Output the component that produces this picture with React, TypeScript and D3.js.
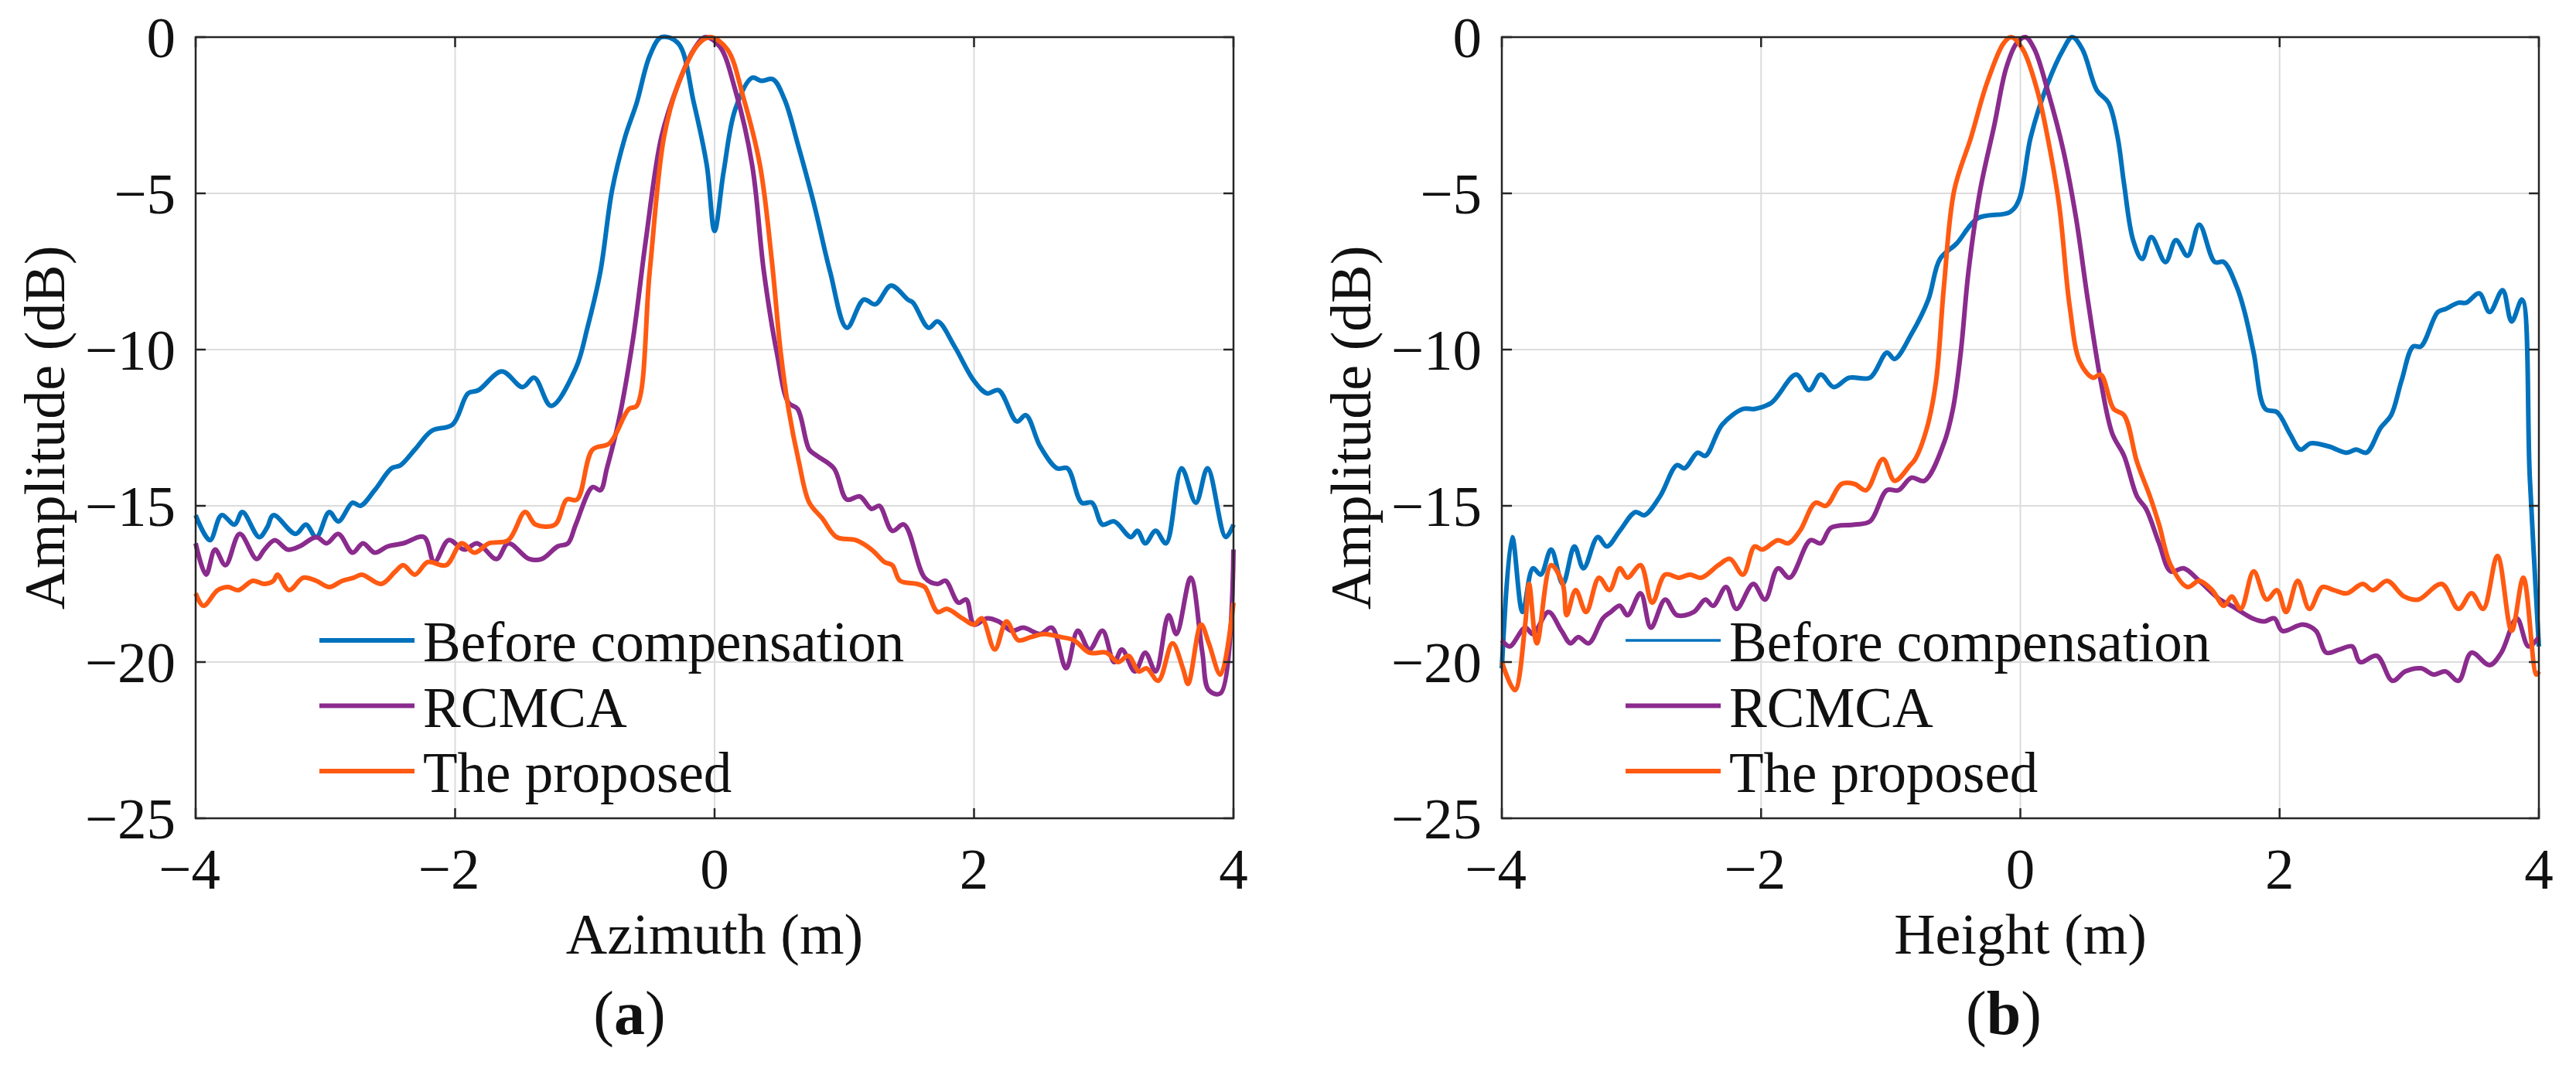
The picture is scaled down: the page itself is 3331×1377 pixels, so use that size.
import * as d3 from 'd3';

// ---- data: [x (m), amplitude (dB)] ----
const seriesNames = ['Before compensation', 'RCMCA', 'The proposed'];
const xTicks = [-4, -2, 0, 2, 4];
const yTicks = [0, -5, -10, -15, -20, -25];

const azBefore = [[-4,-15.3],[-3.89,-16.1],[-3.8,-15.3],[-3.7,-15.6],[-3.64,-15.2],[-3.51,-16.0],[-3.45,-15.7],[-3.4,-15.3],[-3.23,-15.9],[-3.15,-15.6],[-3.07,-16.0],[-2.97,-15.2],[-2.9,-15.5],[-2.79,-14.9],[-2.73,-15.0],[-2.62,-14.5],[-2.49,-13.8],[-2.42,-13.7],[-2.31,-13.2],[-2.18,-12.6],[-2.02,-12.4],[-1.9,-11.4],[-1.82,-11.3],[-1.64,-10.7],[-1.48,-11.2],[-1.39,-10.9],[-1.26,-11.8],[-1.07,-10.6],[-0.98,-9.3],[-0.88,-7.5],[-0.79,-4.9],[-0.69,-3.2],[-0.6,-2.1],[-0.5,-0.6],[-0.41,0],[-0.28,-0.2],[-0.16,-2.1],[-0.06,-4.1],[0,-6.2],[0.07,-4.3],[0.16,-2.3],[0.29,-1.3],[0.36,-1.4],[0.45,-1.35],[0.54,-2.0],[0.64,-3.4],[0.77,-5.4],[0.89,-7.5],[1.02,-9.3],[1.15,-8.4],[1.24,-8.55],[1.36,-7.95],[1.49,-8.4],[1.53,-8.5],[1.65,-9.3],[1.72,-9.1],[1.85,-9.9],[2.0,-11.0],[2.1,-11.4],[2.19,-11.3],[2.33,-12.3],[2.4,-12.1],[2.51,-13.1],[2.64,-13.8],[2.72,-13.8],[2.83,-14.9],[2.91,-14.9],[2.99,-15.6],[3.08,-15.5],[3.21,-16.0],[3.26,-15.8],[3.32,-16.2],[3.4,-15.8],[3.48,-16.2],[3.6,-13.8],[3.71,-14.9],[3.8,-13.8],[3.94,-16.0],[4,-15.6]];
const azRcmca = [[-4,-16.2],[-3.92,-17.2],[-3.85,-16.4],[-3.77,-16.9],[-3.66,-15.9],[-3.53,-16.7],[-3.47,-16.4],[-3.39,-16.1],[-3.29,-16.4],[-3.2,-16.3],[-3.07,-16.0],[-2.99,-16.2],[-2.9,-15.9],[-2.79,-16.5],[-2.71,-16.2],[-2.62,-16.5],[-2.52,-16.3],[-2.4,-16.2],[-2.24,-16.0],[-2.16,-16.8],[-2.05,-16.1],[-1.93,-16.4],[-1.83,-16.2],[-1.68,-16.7],[-1.59,-16.2],[-1.43,-16.7],[-1.33,-16.7],[-1.21,-16.3],[-1.13,-16.2],[-1.07,-15.6],[-0.94,-14.4],[-0.88,-14.5],[-0.83,-13.8],[-0.74,-12.3],[-0.63,-9.7],[-0.53,-6.5],[-0.41,-3.2],[-0.28,-1.5],[-0.16,-0.4],[-0.07,0],[0.04,-0.3],[0.16,-1.7],[0.29,-4.1],[0.38,-7.5],[0.48,-10.1],[0.57,-11.7],[0.64,-11.9],[0.73,-13.2],[0.79,-13.4],[0.92,-13.8],[1.02,-14.8],[1.12,-14.7],[1.21,-15.1],[1.27,-15.0],[1.37,-15.8],[1.46,-15.6],[1.62,-17.3],[1.72,-17.5],[1.78,-17.4],[1.88,-18.1],[1.94,-18.0],[2.0,-18.8],[2.1,-18.6],[2.19,-18.7],[2.29,-19.0],[2.38,-18.9],[2.51,-19.1],[2.6,-18.9],[2.71,-20.2],[2.8,-19.0],[2.89,-19.6],[2.99,-19.0],[3.08,-20.0],[3.14,-19.6],[3.24,-20.3],[3.32,-19.7],[3.4,-20.3],[3.5,-18.5],[3.56,-19.1],[3.67,-17.3],[3.76,-19.7],[3.81,-20.9],[3.9,-21.0],[4,-16.4]];
const azProposed = [[-4,-17.8],[-3.94,-18.2],[-3.83,-17.7],[-3.75,-17.6],[-3.67,-17.7],[-3.56,-17.4],[-3.47,-17.5],[-3.4,-17.4],[-3.37,-17.2],[-3.28,-17.7],[-3.17,-17.3],[-3.07,-17.4],[-2.97,-17.6],[-2.87,-17.4],[-2.78,-17.3],[-2.72,-17.2],[-2.57,-17.5],[-2.46,-17.1],[-2.4,-16.9],[-2.31,-17.2],[-2.21,-16.8],[-2.07,-16.9],[-1.95,-16.2],[-1.85,-16.5],[-1.74,-16.2],[-1.59,-16.1],[-1.46,-15.2],[-1.38,-15.6],[-1.23,-15.6],[-1.14,-14.8],[-1.06,-14.8],[-0.94,-13.2],[-0.81,-13.0],[-0.66,-11.9],[-0.6,-11.8],[-0.5,-7.5],[-0.39,-3.2],[-0.28,-1.5],[-0.12,-0.2],[-0.03,0],[0.1,-0.4],[0.22,-1.9],[0.35,-4.1],[0.44,-7.1],[0.51,-10.1],[0.57,-11.9],[0.65,-13.6],[0.73,-14.9],[0.83,-15.4],[0.94,-16.0],[1.09,-16.1],[1.21,-16.4],[1.31,-16.8],[1.37,-16.9],[1.43,-17.4],[1.56,-17.5],[1.62,-17.6],[1.72,-18.4],[1.79,-18.3],[1.91,-18.6],[2.0,-18.8],[2.06,-18.6],[2.16,-19.6],[2.25,-18.7],[2.34,-19.3],[2.44,-19.2],[2.54,-19.1],[2.67,-19.2],[2.77,-19.3],[2.89,-19.7],[3.02,-19.7],[3.11,-20.0],[3.19,-19.8],[3.27,-20.3],[3.33,-20.2],[3.42,-20.6],[3.53,-19.4],[3.61,-20.2],[3.65,-20.7],[3.75,-18.8],[3.81,-19.4],[3.9,-20.4],[4,-18.1]];

const htBefore = [[-4,-20.2],[-3.92,-16.0],[-3.84,-18.4],[-3.76,-17.0],[-3.7,-17.2],[-3.62,-16.4],[-3.53,-17.5],[-3.44,-16.3],[-3.37,-17.0],[-3.26,-16.0],[-3.19,-16.3],[-3.09,-15.8],[-2.97,-15.2],[-2.9,-15.3],[-2.78,-14.7],[-2.65,-13.7],[-2.59,-13.8],[-2.49,-13.3],[-2.43,-13.4],[-2.3,-12.4],[-2.14,-11.9],[-2.05,-11.9],[-1.92,-11.7],[-1.73,-10.8],[-1.63,-11.3],[-1.54,-10.8],[-1.44,-11.2],[-1.32,-10.9],[-1.16,-10.9],[-1.03,-10.1],[-0.97,-10.3],[-0.84,-9.5],[-0.71,-8.4],[-0.62,-7.1],[-0.49,-6.6],[-0.33,-5.8],[-0.08,-5.6],[-0.01,-5.2],[0.08,-3.2],[0.21,-1.5],[0.33,-0.4],[0.4,0],[0.48,-0.4],[0.59,-1.7],[0.68,-2.1],[0.75,-3.2],[0.8,-4.7],[0.87,-6.5],[0.94,-7.1],[1.01,-6.4],[1.12,-7.2],[1.2,-6.5],[1.29,-7.0],[1.38,-6.0],[1.5,-7.2],[1.57,-7.2],[1.67,-8.0],[1.73,-8.8],[1.8,-10.1],[1.89,-11.9],[1.98,-12.0],[2.08,-12.7],[2.16,-13.2],[2.24,-13.0],[2.38,-13.1],[2.52,-13.3],[2.59,-13.2],[2.67,-13.3],[2.78,-12.5],[2.86,-12.1],[2.94,-11.0],[3.03,-9.9],[3.09,-9.9],[3.22,-8.8],[3.28,-8.7],[3.38,-8.5],[3.44,-8.5],[3.54,-8.2],[3.62,-8.8],[3.72,-8.1],[3.79,-9.1],[3.87,-8.4],[3.93,-14.1],[4,-19.5]];
const htRcmca = [[-4,-19.3],[-3.94,-19.5],[-3.82,-18.9],[-3.76,-19.1],[-3.64,-18.4],[-3.54,-19.0],[-3.47,-19.4],[-3.41,-19.2],[-3.33,-19.4],[-3.22,-18.6],[-3.16,-18.4],[-3.09,-18.2],[-3.03,-18.5],[-2.93,-17.8],[-2.85,-18.9],[-2.74,-18.0],[-2.65,-18.5],[-2.52,-18.4],[-2.43,-18.0],[-2.37,-18.2],[-2.27,-17.6],[-2.19,-18.3],[-2.06,-17.5],[-1.97,-18.0],[-1.87,-17.0],[-1.78,-17.3],[-1.62,-16.1],[-1.54,-16.2],[-1.46,-15.7],[-1.28,-15.6],[-1.16,-15.5],[-1.03,-14.5],[-0.94,-14.5],[-0.84,-14.1],[-0.74,-14.2],[-0.59,-13.0],[-0.52,-11.9],[-0.46,-10.1],[-0.4,-7.5],[-0.31,-4.9],[-0.2,-2.8],[-0.11,-1.0],[-0.03,-0.2],[0.04,0],[0.11,-0.4],[0.21,-1.7],[0.33,-3.6],[0.43,-5.8],[0.52,-8.4],[0.62,-11.0],[0.71,-12.7],[0.8,-13.4],[0.9,-14.7],[0.97,-15.1],[1.07,-16.2],[1.16,-17.1],[1.26,-17.0],[1.38,-17.4],[1.54,-18.0],[1.63,-18.2],[1.79,-18.6],[1.88,-18.7],[1.96,-18.6],[2.02,-19.0],[2.18,-18.8],[2.28,-19.0],[2.36,-19.7],[2.46,-19.6],[2.56,-19.5],[2.62,-20.0],[2.75,-19.8],[2.87,-20.6],[2.97,-20.3],[3.09,-20.2],[3.19,-20.4],[3.28,-20.3],[3.38,-20.6],[3.48,-19.7],[3.62,-20.1],[3.71,-19.7],[3.83,-18.6],[3.92,-19.5],[4,-19.2]];
const htProposed = [[-4,-20.0],[-3.9,-20.9],[-3.82,-18.8],[-3.79,-17.5],[-3.73,-19.4],[-3.62,-16.9],[-3.53,-17.5],[-3.5,-18.5],[-3.43,-17.7],[-3.35,-18.4],[-3.25,-17.3],[-3.17,-17.7],[-3.09,-17.0],[-3.03,-17.3],[-2.93,-16.9],[-2.84,-18.1],[-2.74,-17.2],[-2.63,-17.3],[-2.55,-17.2],[-2.46,-17.3],[-2.33,-16.9],[-2.24,-16.7],[-2.14,-17.2],[-2.05,-16.3],[-1.99,-16.4],[-1.87,-16.1],[-1.79,-16.2],[-1.7,-15.8],[-1.58,-14.9],[-1.5,-15.0],[-1.38,-14.3],[-1.28,-14.3],[-1.19,-14.5],[-1.06,-13.5],[-0.97,-14.2],[-0.85,-13.7],[-0.81,-13.5],[-0.72,-12.5],[-0.65,-11.0],[-0.59,-8.0],[-0.51,-4.9],[-0.38,-3.2],[-0.26,-1.5],[-0.13,-0.2],[-0.07,0],[0.02,-0.4],[0.13,-1.7],[0.21,-3.2],[0.3,-5.4],[0.38,-8.6],[0.46,-10.4],[0.56,-10.9],[0.62,-10.8],[0.72,-11.9],[0.8,-12.1],[0.9,-13.6],[1.0,-14.7],[1.07,-15.6],[1.16,-16.9],[1.29,-17.6],[1.38,-17.4],[1.48,-17.7],[1.57,-18.2],[1.63,-17.9],[1.7,-18.3],[1.8,-17.1],[1.9,-18.0],[1.98,-17.7],[2.05,-18.4],[2.14,-17.4],[2.23,-18.3],[2.33,-17.6],[2.42,-17.7],[2.52,-17.8],[2.64,-17.5],[2.72,-17.7],[2.83,-17.4],[2.96,-17.9],[3.07,-18.0],[3.25,-17.5],[3.38,-18.3],[3.48,-17.8],[3.57,-18.3],[3.68,-16.6],[3.79,-19.0],[3.88,-17.3],[3.98,-20.4],[4,-20.3]];

const COLORS = ['#0072bd', '#8a2b8d', '#ff5a12'];
const FONT = '"Liberation Serif", "Times New Roman", serif';
const W = 3331;
const H = 1377;

type Pt = number[];

interface PanelProps {
    left: number;
    right: number;
    top: number;
    bottom: number;
    xLabel: string;
    caption: string;
    captionX: number;
    series: Pt[][];
    legendWidths: number[];
}

function Panel({ left, right, top, bottom, xLabel, caption, captionX, series, legendWidths }: PanelProps) {
    const x = d3.scaleLinear().domain([-4, 4]).range([left, right]);
    const y = d3.scaleLinear().domain([-25, 0]).range([bottom, top]);
    const line = d3.line<Pt>()
        .x(d => x(d[0]))
        .y(d => y(d[1]))
        .curve(d3.curveCatmullRom.alpha(0.5));
    const tickLen = 13;
    const fmt = (v: number) => (v < 0 ? '\u2212' + Math.abs(v) : String(v));
    const midX = (left + right) / 2;
    const midY = (top + bottom) / 2;

    return (
        <g fontFamily={FONT} fill="#111">
            {/* grid */}
            {xTicks.map(t => (
                <line key={'gx' + t} x1={x(t)} x2={x(t)} y1={top} y2={bottom} stroke="#dcdcdc" strokeWidth={2} />
            ))}
            {yTicks.map(t => (
                <line key={'gy' + t} x1={left} x2={right} y1={y(t)} y2={y(t)} stroke="#dcdcdc" strokeWidth={2} />
            ))}

            {/* data */}
            {series.map((s, i) => (
                <path key={'s' + i} d={line(s) || ''} fill="none" stroke={COLORS[i]} strokeWidth={6} strokeLinejoin="round" />
            ))}

            {/* box + ticks */}
            <rect x={left} y={top} width={right - left} height={bottom - top} fill="none" stroke="#262626" strokeWidth={2.5} />
            {xTicks.map(t => (
                <g key={'tx' + t}>
                    <line x1={x(t)} x2={x(t)} y1={bottom} y2={bottom - tickLen} stroke="#262626" strokeWidth={2.5} />
                    <line x1={x(t)} x2={x(t)} y1={top} y2={top + tickLen} stroke="#262626" strokeWidth={2.5} />
                    <text x={x(t) - (t < 0 ? 8 : 0)} y={bottom + 91} fontSize={75} textAnchor="middle">{fmt(t)}</text>
                </g>
            ))}
            {yTicks.map(t => (
                <g key={'ty' + t}>
                    <line x1={left} x2={left + tickLen} y1={y(t)} y2={y(t)} stroke="#262626" strokeWidth={2.5} />
                    <line x1={right} x2={right - tickLen} y1={y(t)} y2={y(t)} stroke="#262626" strokeWidth={2.5} />
                    <text x={left - 26} y={y(t)} dy="0.35em" fontSize={75} textAnchor="end">{fmt(t)}</text>
                </g>
            ))}

            {/* axis labels */}
            <text x={midX} y={bottom + 175} fontSize={74} textAnchor="middle">{xLabel}</text>
            <text transform={`translate(${left - 170},${midY}) rotate(-90)`} fontSize={74} textAnchor="middle">Amplitude (dB)</text>

            {/* legend */}
            {seriesNames.map((name, i) => {
                const ly = bottom - 230 + i * 84.5;
                return (
                    <g key={'lg' + i}>
                        <line x1={left + 160} x2={left + 283} y1={ly} y2={ly} stroke={COLORS[i]} strokeWidth={legendWidths[i]} />
                        <text x={left + 294} y={ly + 27} fontSize={73}>{name}</text>
                    </g>
                );
            })}

            {/* caption */}
            <text x={captionX} y={bottom + 279} fontSize={80} textAnchor="middle">
                (<tspan fontWeight="bold">{caption}</tspan>)
            </text>
        </g>
    );
}

export default function App() {
    return (
        <svg width={W} height={H} viewBox={`0 0 ${W} ${H}`}
            style={{ position: 'absolute', left: 0, top: 0, background: '#fff' }}>
            <rect width={W} height={H} fill="#fff" />
            <Panel left={253} right={1595} top={48} bottom={1058} xLabel="Azimuth (m)" caption="a" captionX={814}
                series={[azBefore, azRcmca, azProposed]} legendWidths={[6, 6, 6]} />
            <Panel left={1942} right={3283} top={48} bottom={1058} xLabel="Height (m)" caption="b" captionX={2591}
                series={[htBefore, htRcmca, htProposed]} legendWidths={[3.5, 6, 6]} />
        </svg>
    );
}
